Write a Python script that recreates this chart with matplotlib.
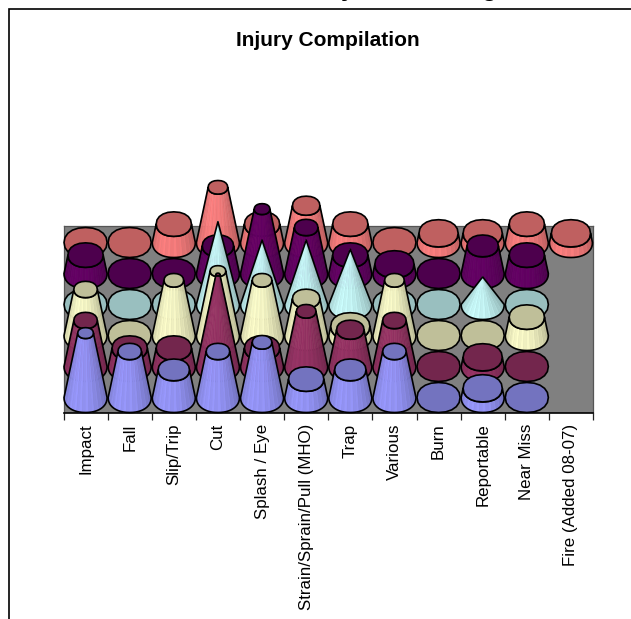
import numpy as np
import matplotlib
matplotlib.use('Agg')
import matplotlib.pyplot as plt
from matplotlib.colors import to_rgb
from matplotlib.patches import Polygon, Rectangle

plt.rcParams['font.family'] = ['Liberation Sans', 'DejaVu Sans']

categories = ['Impact', 'Fall', 'Slip/Trip', 'Cut', 'Splash / Eye', 'Strain/Sprain/Pull (MHO)',
              'Trap', 'Various', 'Burn', 'Reportable', 'Near Miss', 'Fire (Added 08-07)']

# series from the back row to the front row
red = [0, 0, 2, 6, 2, 4, 2, 0, 1, 1, 2, 1]
purple = [2, 0, 0, 3, 7, 5, 2, 1, 0, 3, 2, None]
cyan = [0, 0, 0, 9, 7, 7, 6, 0, 0, 3, 0, None]
cream = [5, 0, 6, 7, 6, 4, 1, 6, 0, 0, 2, None]
maroon = [5, 2, 2, 10, 2, 6, 4, 5, 0, 1, 0, None]
blue = [7, 5, 3, 5, 6, 2, 3, 5, 0, 1, 0, None]

series = [red, purple, cyan, cream, maroon, blue]
colors = ['#FF8080', '#660066', '#CCFFFF', '#FFFFCC', '#993366', '#9999FF']
pointed = [False, False, True, False, False, False]

W, H = 631, 619
UNIT = 9.2          # pixels per value
FLOOR = (63.5, 593.0, 226.0, 412.5)  # left, right, top, bottom in pixels
HW = 0.488          # base half width, in categories
HH = 15.0 / UNIT    # base half height, in values
PITCH = 31.0 / UNIT # distance between rows, in values
VMAX = 11.0         # value where a truncated cone would close
EXP = 0.92          # rounds the ellipses slightly towards a box, like the original


def shade(col, t, i):
    # t goes 0..1 from left edge to right edge of a cone
    f = np.interp(t, [0, 0.3, 0.55, 1], [0.84, 1.0, 0.97, 0.74])
    if i % 2:
        f *= 0.96
    return tuple(np.clip(np.array(to_rgb(col)) * f, 0, 1))


def top_color(col):
    return tuple(np.array(to_rgb(col)) * 0.75)


def curve(a):
    c, s = np.cos(a), np.sin(a)
    return np.sign(c) * np.abs(c) ** EXP, np.sign(s) * np.abs(s) ** EXP


def ellipse_pts(x, y, rx, ry, n=20):
    cx, cy = curve(np.linspace(0, 2 * np.pi, n, endpoint=False))
    return np.column_stack([x + rx * cx, y + ry * cy])


def draw_cone(ax, x, y0, v, col, point, z):
    if v == 0:
        ax.add_patch(Polygon(ellipse_pts(x, y0, HW, HH), closed=True, fc=top_color(col), ec='black',
                             lw=1.2, zorder=z, clip_on=False))
        return
    k = 0.0 if point else 1 - v / VMAX
    cx, cy = curve(np.linspace(np.pi, 2 * np.pi, 25))
    bx, by = x + HW * cx, y0 + HH * cy
    tx, ty = x + k * HW * cx, y0 + v + k * HH * cy
    # side facets
    for i in range(len(cx) - 1):
        pts = [(bx[i], by[i]), (bx[i + 1], by[i + 1]), (tx[i + 1], ty[i + 1]), (tx[i], ty[i])]
        c = shade(col, i / (len(cx) - 2), i)
        ax.add_patch(Polygon(pts, closed=True, fc=c, ec=c, lw=0.4, zorder=z, clip_on=False))
    # outline
    outline = np.vstack([np.column_stack([bx, by]), np.column_stack([tx[::-1], ty[::-1]])])
    ax.add_patch(Polygon(outline, closed=True, fc='none', ec='black', lw=1.2, zorder=z + 0.1,
                         clip_on=False, joinstyle='round'))
    if k > 0:
        ax.add_patch(Polygon(ellipse_pts(x, y0 + v, k * HW, k * HH), closed=True, fc=top_color(col),
                             ec='black', lw=1.2, zorder=z + 0.2, clip_on=False))


fig = plt.figure(figsize=(W / 100, H / 100), dpi=100)
fig.patch.set_facecolor('white')

# outer frame, runs off the right and bottom of the crop
fig.add_artist(Rectangle((9 / W, -0.1), 1.0, 1.1 - 8.5 / H, transform=fig.transFigure,
                         fc='none', ec='black', lw=1.2))

ax = fig.add_axes([FLOOR[0] / W, 1 - FLOOR[3] / H, (FLOOR[1] - FLOOR[0]) / W, (FLOOR[3] - FLOOR[2]) / H])
ax.set_facecolor('#808080')
ax.set_xlim(-0.5, len(categories) - 0.5)
ax.set_ylim(0, (FLOOR[3] - FLOOR[2]) / UNIT)
ax.set_yticks([])

ax.set_xticks(range(len(categories)))
ax.set_xticklabels(categories, rotation=90, fontsize=12.2, va='top', ha='center')
ax.set_xticks(np.arange(-0.5, len(categories)), minor=True)
ax.tick_params(axis='x', which='major', length=0, pad=8)
ax.tick_params(axis='x', which='minor', length=5, width=0.9, color='#222222')

for name in ['left', 'top', 'right']:
    ax.spines[name].set_color('#555555')
    ax.spines[name].set_linewidth(0.9)
ax.spines['bottom'].set_color('black')
ax.spines['bottom'].set_linewidth(1.2)

for r, (vals, col, point) in enumerate(zip(series, colors, pointed)):
    y0 = HH + (len(series) - 1 - r) * PITCH
    for i, v in enumerate(vals):
        if v is None:
            continue
        draw_cone(ax, i, y0, v, col, point, 3 + r + i * 0.01)

fig.text(327.5 / W, 1 - 40 / H, 'Injury Compilation', fontsize=15, fontweight='bold', ha='center', va='center')

# page heading cut off by the crop, only the descenders show in the reference too
fig.text(348 / W, 1 + 4 / H, 'y', fontsize=18, fontweight='bold', ha='center', va='baseline')
fig.text(490 / W, 1 + 4 / H, 'g', fontsize=18, fontweight='bold', ha='center', va='baseline')

fig.savefig('out.png', dpi=100)
